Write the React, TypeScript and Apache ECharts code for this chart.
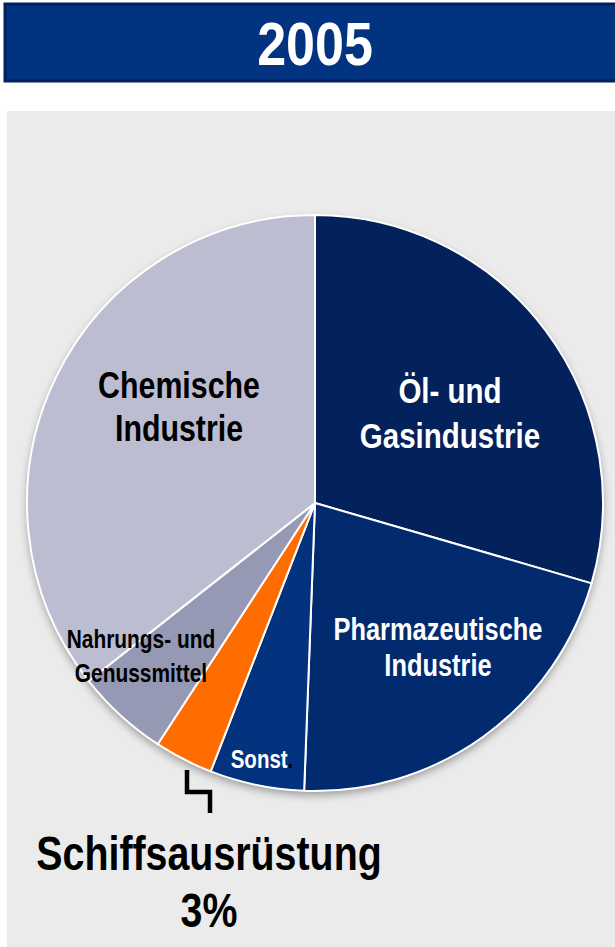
import React, { useEffect, useRef } from "react";
import * as echarts from "echarts";

const TITLE = "2005";
const categories = [
  "Öl- und Gasindustrie",
  "Pharmazeutische Industrie",
  "Sonst.",
  "Schiffsausrüstung",
  "Nahrungs- und Genussmittel",
  "Chemische Industrie",
];
const labelTexts = [
  "Öl- und\nGasindustrie",
  "Pharmazeutische\nIndustrie",
  "Sonst",
  "Schiffsausrüstung\n3%",
  "Nahrungs- und\nGenussmittel",
  "Chemische\nIndustrie",
];
const shares = [29.5, 21.1, 5.3, 3.3, 5.2, 35.6];
const colors = ["#03215a", "#022b6f", "#03327e", "#ff6c00", "#9599b3", "#bcbdd0"];

const FONT = "'Liberation Sans', Arial, sans-serif";
const SQUEEZE = 0.82;

const labelStyles = [
  { fontSize: 36, lineHeight: 45, color: "#ffffff" },
  { fontSize: 31, lineHeight: 36, color: "#ffffff" },
  { fontSize: 25, lineHeight: 30, color: "#ffffff" },
  { fontSize: 48, lineHeight: 57, color: "#000000" },
  { fontSize: 25.5, lineHeight: 34, color: "#000000" },
  { fontSize: 37, lineHeight: 43, color: "#000000" },
];
const labelPos = [
  [450, 413],
  [438, 647],
  [262, 759],
  [209, 882],
  [141, 656],
  [179, 406],
];

export default function App() {
  const ref = useRef<HTMLDivElement>(null);
  useEffect(() => {
    if (!ref.current) return;
    const chart = echarts.init(ref.current, null, { renderer: "svg" });
    const cx = 315;
    const cy = 503;
    const r = 288;

    const labelGraphics = labelTexts.map((t, i) => {
      const s = labelStyles[i];
      const base: any = {
        type: "text",
        z: 20,
        x: labelPos[i][0],
        y: labelPos[i][1],
        scaleX: SQUEEZE,
        style: {
          text: t,
          fill: s.color,
          fontFamily: FONT,
          fontWeight: "bold",
          fontSize: s.fontSize,
          lineHeight: s.lineHeight,
          align: "center",
          verticalAlign: "middle",
        },
      };
      if (i === 2) {
        base.style.text = "{w|Sonst}{k|.}";
        base.style.rich = {
          w: { fill: "#ffffff", fontFamily: FONT, fontWeight: "bold", fontSize: s.fontSize },
          k: { fill: "#000000", fontFamily: FONT, fontWeight: "bold", fontSize: s.fontSize },
        };
      }
      return base;
    });

    chart.setOption({
      animation: false,
      backgroundColor: "#ffffff",
      graphic: [
        {
          type: "rect",
          z: -10,
          shape: { x: 7, y: 111, width: 620, height: 840 },
          style: { fill: "#ebebeb" },
        },
        {
          type: "rect",
          z: -10,
          shape: { x: 5, y: 4, width: 620, height: 77 },
          style: { fill: "#013381", stroke: "#00215e", lineWidth: 3 },
        },
        {
          type: "text",
          z: 10,
          x: 315,
          y: 44,
          scaleX: SQUEEZE * 1.04,
          style: {
            text: TITLE,
            fill: "#ffffff",
            fontFamily: FONT,
            fontWeight: "bold",
            fontSize: 61,
            align: "center",
            verticalAlign: "middle",
          },
        },
        {
          type: "polyline",
          z: 10,
          shape: {
            points: [
              [187, 770],
              [187, 792],
              [210, 792],
              [210, 813],
            ],
          },
          style: { stroke: "#000000", lineWidth: 4.5, fill: "none" },
        },
        ...labelGraphics,
      ],
      series: [
        {
          type: "pie",
          z: 1,
          silent: true,
          center: [cx, cy],
          radius: r,
          label: { show: false },
          labelLine: { show: false },
          itemStyle: {
            color: "#ffffff",
            shadowBlur: 8,
            shadowOffsetY: 4,
            shadowColor: "rgba(0,0,0,0.35)",
          },
          data: [{ value: 1, name: "bg" }],
        },
        {
          type: "pie",
          z: 2,
          center: [cx, cy],
          radius: r,
          startAngle: 90,
          clockwise: true,
          itemStyle: { borderColor: "#ffffff", borderWidth: 2 },
          label: { show: false },
          labelLine: { show: false },
          data: categories.map((name, i) => ({
            name,
            value: shares[i],
            itemStyle: { color: colors[i] },
          })),
        },
      ],
    });
    return () => chart.dispose();
  }, []);
  return (
    <div
      ref={ref}
      style={{ position: "absolute", left: 0, top: 0, width: 615, height: 947 }}
    />
  );
}
